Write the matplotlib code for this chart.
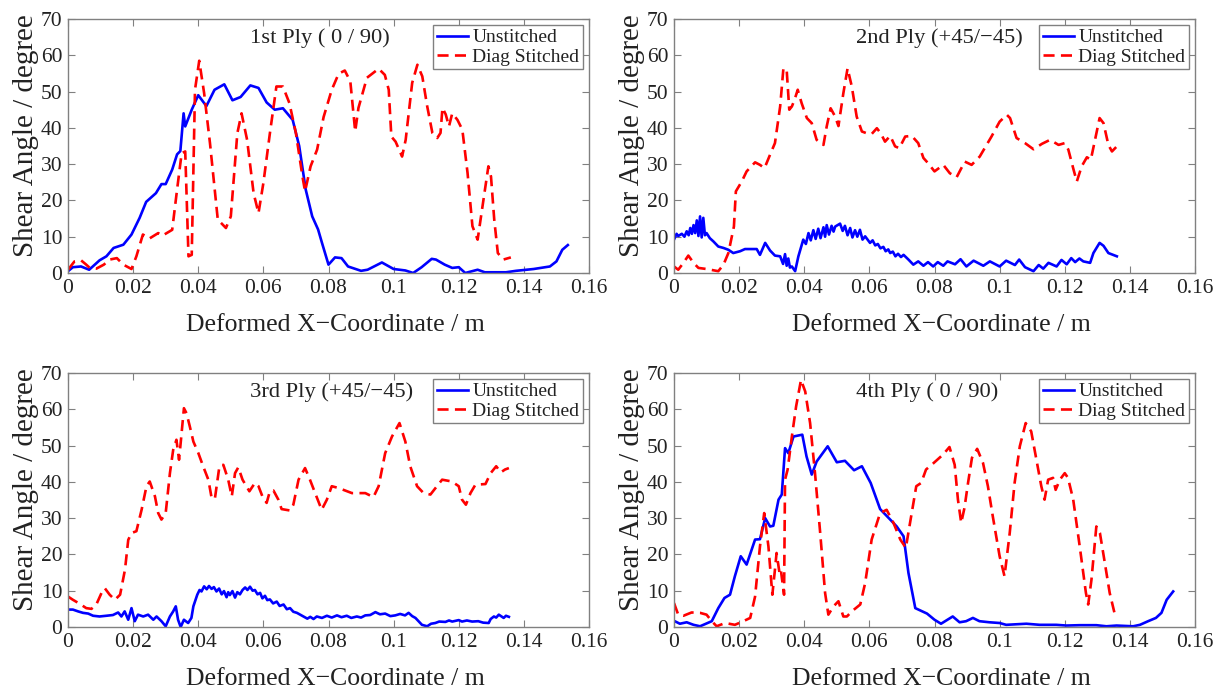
import numpy as np
import matplotlib
matplotlib.use('Agg')
import matplotlib.pyplot as plt

plt.rcParams['font.family'] = ['Liberation Serif', 'DejaVu Serif']

x_ticks = [0, 0.02, 0.04, 0.06, 0.08, 0.10, 0.12, 0.14, 0.16]
x_ticklabels = ['0', '0.02', '0.04', '0.06', '0.08', '0.1', '0.12', '0.14', '0.16']
y_ticks = [0, 10, 20, 30, 40, 50, 60, 70]
titles = ['1st Ply ( 0 / 90)', '2nd Ply (+45/\u221245)', '3rd Ply (+45/\u221245)', '4th Ply ( 0 / 90)']
series_names = ['Unstitched', 'Diag Stitched']

# ply 1
p1_un_x = [0, 0.0015, 0.004, 0.0065, 0.0097, 0.0118, 0.014, 0.017, 0.0195, 0.022, 0.024, 0.027,
           0.0287, 0.030, 0.032, 0.0335, 0.0345, 0.0355, 0.036, 0.038, 0.040, 0.0425, 0.045, 0.048,
           0.0505, 0.053, 0.056, 0.0585, 0.061, 0.0635, 0.066, 0.069, 0.071, 0.073, 0.075, 0.0768,
           0.078, 0.080, 0.082, 0.084, 0.086, 0.090, 0.092, 0.0964, 0.100, 0.1036, 0.106, 0.1086,
           0.1117, 0.113, 0.1157, 0.118, 0.120, 0.122, 0.1258, 0.128, 0.1345, 0.1376, 0.143, 0.148,
           0.150, 0.1518, 0.1535]
p1_un_y = [0.5, 1.6, 1.8, 0.9, 3.5, 4.6, 6.9, 7.8, 10.6, 15.2, 19.6, 22.0,
           24.5, 24.5, 28.5, 32.7, 33.6, 44.0, 40.4, 45.0, 49.0, 46.0, 50.5, 52.0,
           47.6, 48.5, 51.7, 51.0, 47.0, 45.0, 45.4, 42.2, 35.0, 23.0, 15.6, 12.0,
           8.3, 2.3, 4.3, 4.1, 1.8, 0.6, 0.9, 2.9, 1.1, 0.7, 0.0, 1.6,
           3.9, 3.7, 2.3, 1.4, 1.6, 0.0, 0.9, 0.2, 0.2, 0.6, 1.1, 1.8,
           3.2, 6.4, 7.7]
p1_st_x = [0, 0.002, 0.004, 0.0056, 0.0067, 0.0087, 0.011, 0.0128, 0.015, 0.017, 0.0195, 0.021,
           0.023, 0.025, 0.0277, 0.029, 0.032, 0.0335, 0.0349, 0.036, 0.037, 0.038, 0.039, 0.0403,
           0.0418, 0.0436, 0.046, 0.047, 0.0485, 0.050, 0.052, 0.0533, 0.055, 0.057, 0.0585, 0.060,
           0.062, 0.064, 0.066, 0.068, 0.070, 0.072, 0.0728, 0.0745, 0.0765, 0.0785, 0.081, 0.0831,
           0.085, 0.0867, 0.0882, 0.0892, 0.0918, 0.0954, 0.0973, 0.0985, 0.0993, 0.1006, 0.1026,
           0.1037, 0.1057, 0.1073, 0.1088, 0.1103, 0.1119, 0.1134, 0.1144, 0.115, 0.116, 0.117,
           0.118, 0.1196, 0.1211, 0.1227, 0.1242, 0.1258, 0.1273, 0.1291, 0.1299, 0.1309, 0.132,
           0.1337, 0.136]
p1_st_y = [0.9, 3.2, 3.5, 2.3, 1.4, 1.2, 2.3, 3.7, 4.1, 2.3, 1.1, 4.6,
           10.6, 9.5, 11.0, 10.3, 11.9, 23.0, 33.0, 33.5, 4.6, 5.0, 50.5, 58.5,
           49.6, 35.8, 14.7, 13.8, 12.4, 15.6, 38.5, 44.0, 36.7, 22.0, 16.5, 24.8,
           38.5, 51.4, 51.4, 46.8, 38.5, 26.6, 22.5, 29.4, 34.0, 43.0, 50.5, 54.9,
           55.8, 52.8, 39.0, 45.5, 53.8, 56.3, 54.6, 50.5, 37.6, 36.2, 32.1,
           36.7, 52.4, 57.4, 54.2, 46.0, 38.6, 37.2, 38.6, 45.5, 43.7, 40.4,
           44.0, 42.2, 39.5, 27.6, 12.9, 9.2, 18.4, 29.4, 26.6, 14.7, 5.5,
           3.7, 4.3]

# ply 2
p2_un_x = [0, 0.0008, 0.0013, 0.0024, 0.0032, 0.0039, 0.0045, 0.005, 0.0055, 0.006, 0.0065, 0.007,
           0.0075, 0.008, 0.0085, 0.009, 0.0095, 0.010, 0.011, 0.0121, 0.0136, 0.0152, 0.0167,
           0.0182, 0.0203, 0.0218, 0.0239, 0.0254, 0.0264, 0.028, 0.0295, 0.031, 0.0326, 0.0335,
           0.0341, 0.0346, 0.0351, 0.0356, 0.0362, 0.0372, 0.0382, 0.0397, 0.0405, 0.0413, 0.042,
           0.0428, 0.0435, 0.0443, 0.045, 0.0459, 0.0464, 0.0469, 0.0476, 0.0484, 0.049, 0.0495,
           0.051, 0.0518, 0.0525, 0.0533, 0.0541, 0.0548, 0.0556, 0.0563, 0.0571, 0.0579, 0.0587,
           0.0602, 0.061, 0.0618, 0.0626, 0.0634, 0.0643, 0.065, 0.0658, 0.0664, 0.0672, 0.068,
           0.0688, 0.0697, 0.0705, 0.072, 0.0735, 0.075, 0.0766, 0.078,
           0.0796, 0.081, 0.0827, 0.084, 0.0863, 0.088, 0.0898, 0.092, 0.095, 0.097, 0.100, 0.102,
           0.1047, 0.106, 0.1078, 0.1104, 0.112, 0.1134, 0.115, 0.1175, 0.119, 0.1206, 0.122,
           0.1232, 0.1245, 0.1257, 0.1278, 0.1288, 0.1307, 0.1319, 0.1334, 0.136]
p2_un_y = [9.2, 10.8, 10.2, 10.8, 10.0, 11.5, 10.4, 12.4, 10.8, 13.2, 11.0, 14.5,
           10.2, 15.6, 9.8, 15.2, 10.4, 11.0, 9.6, 8.7, 7.3, 6.9, 6.4,
           5.5, 6.0, 6.6, 6.6, 6.6, 5.0, 8.3, 6.2, 4.8, 4.6, 2.5,
           5.2, 2.0, 4.0, 1.5, 1.8, 0.5, 4.6, 9.2, 8.0, 11.0, 9.0,
           11.8, 9.4, 12.2, 9.6, 12.6, 10.0, 13.2, 10.6, 13.0, 11.4, 12.8,
           13.6, 11.6, 13.0, 10.4, 12.4, 9.8, 11.8, 10.0, 11.9, 9.2, 10.1,
           8.3, 9.0, 7.6, 8.0, 6.8, 7.2, 6.0, 6.5, 5.5, 5.9, 4.6,
           5.3, 4.4, 5.0, 3.7, 2.3, 3.2, 2.0, 3.0,
           1.8, 3.0, 2.0, 3.2, 2.4, 3.8, 1.8, 3.4, 2.0, 3.2, 1.8, 3.4,
           2.2, 3.7, 1.6, 0.5, 2.2, 1.2, 2.8, 1.8, 3.6, 2.4, 4.1,
           3.0, 4.0, 3.2, 2.8, 5.5, 8.3, 7.5, 5.5, 4.6]
p2_st_x = [0, 0.0013, 0.0029, 0.0044, 0.006, 0.0075, 0.010, 0.0136, 0.0152, 0.0167, 0.0184, 0.019,
           0.0208, 0.0223, 0.0249, 0.0264, 0.0278, 0.0295, 0.031, 0.0326, 0.0336, 0.0346, 0.0354,
           0.0362, 0.037, 0.038, 0.0392, 0.0408, 0.0423, 0.0438, 0.0449, 0.0459, 0.0469, 0.0481,
           0.0495, 0.0505, 0.052, 0.0533, 0.0546, 0.0561, 0.0577, 0.0592, 0.0607, 0.0623, 0.0635,
           0.0648, 0.0664, 0.0679, 0.0692, 0.071, 0.073, 0.075, 0.0766, 0.078, 0.080, 0.0827,
           0.0847, 0.0868, 0.0893, 0.0914, 0.0939, 0.0975, 0.100, 0.1022, 0.1032, 0.1052, 0.1078,
           0.1104, 0.113, 0.1155, 0.1181, 0.120, 0.1211, 0.1227, 0.1237, 0.1252, 0.1268, 0.128,
           0.1293, 0.1307, 0.1319, 0.1334, 0.1345, 0.136]
p2_st_y = [1.8, 0.9, 2.8, 4.8, 2.8, 1.4, 1.1, 0.5, 2.3, 5.5, 12.8, 22.5,
           25.2, 28.0, 30.5, 29.8, 28.9, 32.6, 35.8, 45.9, 56.4, 56.0, 45.0,
           45.9, 47.7, 50.5, 46.8, 42.7, 41.3, 36.7, 35.8, 35.3, 40.4, 45.4,
           43.1, 40.5, 49.5, 56.4, 51.4, 43.1, 39.0, 38.5, 38.3, 39.9, 38.5,
           36.2, 37.8, 34.9, 34.4, 37.6, 37.8, 35.8, 31.7, 30.3, 28.0, 29.8,
           27.5, 26.4, 30.7, 29.8, 32.1, 37.6, 41.7, 43.6, 42.7, 37.2, 35.8,
           34.1, 35.6, 36.7, 35.3, 35.8, 34.0, 28.5, 25.2, 29.4, 31.9, 31.2,
           36.7, 42.7, 41.3, 35.3, 33.5, 34.9]

# ply 3
p3_un_x = [0, 0.0015, 0.0031, 0.0046, 0.0062, 0.0077, 0.0097, 0.0118, 0.0138, 0.0154, 0.0164,
           0.0174, 0.0185, 0.0195, 0.0205, 0.0215, 0.0231, 0.0246, 0.0262, 0.0272, 0.0287, 0.030,
           0.0313, 0.0323, 0.0331, 0.0338, 0.0346, 0.0356, 0.0369, 0.0379, 0.0385,
           0.0397, 0.0404, 0.041, 0.0418, 0.0426, 0.0433, 0.0441, 0.0448, 0.0456, 0.0464, 0.0472,
           0.0479, 0.0487, 0.0492, 0.0497, 0.0505, 0.0513, 0.052, 0.0528, 0.0536, 0.0544, 0.0551,
           0.0559, 0.0567, 0.0574, 0.0582, 0.059, 0.0597, 0.0605, 0.0612, 0.062, 0.063, 0.0641,
           0.065, 0.0662, 0.0672, 0.0682, 0.0692, 0.0703,
           0.0723, 0.0735, 0.0744, 0.0754, 0.0764, 0.078, 0.0795, 0.081, 0.0826, 0.084, 0.0856,
           0.087, 0.0887, 0.090, 0.0913, 0.0928, 0.0944, 0.0958, 0.0974, 0.099, 0.1005, 0.102,
           0.1035, 0.1046, 0.1057, 0.1067, 0.1087,
           0.1103, 0.1115, 0.1128, 0.114, 0.1159, 0.117, 0.118, 0.120, 0.121, 0.1225, 0.1241,
           0.126, 0.1275, 0.1292, 0.1298, 0.1308, 0.1315, 0.1323, 0.1338, 0.1345, 0.1354]
p3_un_y = [4.8, 4.8, 4.3, 3.9, 3.7, 3.1, 2.9, 3.1, 3.3, 4.0, 2.9,
           4.3, 2.0, 5.2, 1.6, 3.4, 2.9, 3.4, 2.0, 2.9, 1.6, 0.2,
           2.9, 4.3, 5.7, 2.0, 0.0, 2.0, 1.1, 2.5, 5.7,
           8.9, 10.2, 9.8, 11.2, 10.4, 11.3, 10.5, 11.0, 9.8, 10.6, 9.0,
           9.9, 8.2, 9.6, 8.8, 9.9, 8.1, 9.6, 9.0, 10.2, 10.9, 10.2,
           11.1, 10.0, 10.2, 9.0, 9.4, 7.9, 8.6, 7.4, 7.6, 6.5, 7.0,
           5.8, 6.2, 4.9, 5.2, 4.2, 3.9,
           2.9, 2.3, 2.8, 2.2, 2.9, 2.5, 3.1, 2.6, 3.2, 2.7, 3.1,
           2.5, 2.9, 2.6, 3.2, 3.3, 4.1, 3.5, 3.7, 3.0, 3.2, 3.6,
           3.2, 3.9, 3.0, 2.5, 0.6,
           0.2, 0.9, 1.1, 1.5, 1.4, 1.8, 1.5, 1.9, 1.5, 1.8, 1.5,
           1.6, 1.2, 1.1, 2.2, 2.9, 2.6, 3.4, 2.5, 3.1, 2.8]
p3_st_x = [0, 0.0015, 0.0036, 0.0056, 0.0072, 0.0087, 0.0103, 0.0113, 0.0128, 0.0144, 0.016, 0.0175,
           0.0185, 0.0195, 0.021, 0.0226, 0.0241, 0.0251, 0.0267, 0.0277, 0.0287, 0.030, 0.0313,
           0.0323, 0.0333, 0.0341, 0.0346, 0.0356, 0.0364, 0.0374, 0.0385, 0.040, 0.0415, 0.0431,
           0.0441, 0.0451, 0.0465, 0.0477, 0.0492, 0.0503, 0.0513, 0.0523, 0.0536, 0.0557, 0.0574,
           0.0585, 0.0597, 0.061, 0.062, 0.0631, 0.0646, 0.0656, 0.0682, 0.0692, 0.0708, 0.0728,
           0.0743, 0.0759, 0.0779, 0.0795, 0.081, 0.0831, 0.0872, 0.0913, 0.0938, 0.0954, 0.0974,
           0.0995, 0.1018, 0.1036, 0.1051, 0.1072, 0.1092, 0.1113, 0.1133, 0.1149, 0.1179, 0.120,
           0.121, 0.1222, 0.1236, 0.1251, 0.1282, 0.1298, 0.1315, 0.1329, 0.1342, 0.1354]
p3_st_y = [8.4, 7.5, 6.4, 5.2, 5.0, 6.2, 9.4, 10.7, 8.9, 7.5, 8.9, 15.8,
           24.0, 25.9, 26.4, 32.3, 38.8, 40.1, 36.0, 31.4, 29.6, 31.4, 42.4,
           48.8, 51.6, 46.1, 50.7, 60.3, 58.9, 55.3, 51.1, 48.0, 44.3, 40.6,
           35.6, 35.3, 44.3, 44.7, 40.6, 36.0, 42.4, 44.0, 40.6, 37.4, 39.7,
           38.8, 36.0, 34.2, 37.4, 37.6, 35.1, 32.5, 32.1, 33.7, 40.6, 43.8,
           40.6, 36.9, 32.3, 35.1, 38.8, 38.3, 36.9, 36.9, 35.8, 38.8, 47.9,
           52.5, 56.2, 51.1, 44.3, 38.8, 36.9, 36.5, 38.8, 40.6, 40.1, 38.8,
           35.1, 33.7, 36.9, 39.2, 39.4, 42.4, 44.3, 42.6, 43.4, 43.8]

# ply 4
p4_un_x = [0, 0.0018, 0.0039, 0.006, 0.008, 0.0116, 0.0136, 0.0155, 0.0172, 0.0187, 0.0205, 0.0223,
           0.0249, 0.0264, 0.028, 0.0295, 0.0305, 0.0321, 0.0331, 0.0341, 0.0351, 0.0367, 0.0394,
           0.0407, 0.0423, 0.0438, 0.0472, 0.050, 0.0525, 0.0553, 0.0577, 0.0604, 0.0633, 0.0664,
           0.0684, 0.0705, 0.072, 0.0741, 0.0777, 0.080, 0.082, 0.0856, 0.0877, 0.0897, 0.0918,
           0.0938, 0.0969, 0.100, 0.102, 0.1082, 0.1123, 0.1174, 0.1205, 0.1246, 0.1297, 0.1328,
           0.1359, 0.141, 0.1431, 0.1456, 0.148, 0.1497, 0.1513, 0.1533]
p4_un_y = [1.7, 0.9, 1.3, 0.6, 0.2, 1.6, 5.2, 8.0, 8.9, 14.0, 19.5, 17.2,
           24.1, 24.2, 30.0, 27.7, 27.9, 35.1, 36.5, 49.3, 47.9, 52.5, 53.0,
           47.0, 42.0, 45.6, 49.8, 45.4, 45.8, 43.2, 44.3, 39.7, 32.5, 29.6,
           27.7, 25.0, 14.9, 5.2, 3.7, 2.0, 0.9, 2.9, 1.3, 1.6, 2.5,
           1.6, 1.3, 1.1, 0.6, 0.9, 0.6, 0.6, 0.4, 0.5, 0.5, 0.2,
           0.4, 0.2, 0.6, 1.6, 2.5, 3.9, 7.5, 9.8]
p4_st_x = [0, 0.0013, 0.0029, 0.0054, 0.008, 0.010, 0.0116, 0.0131, 0.0157, 0.0187, 0.0213, 0.0234,
           0.0249, 0.0264, 0.0277, 0.029, 0.0302, 0.031, 0.0315, 0.0324, 0.0328, 0.0338, 0.0341,
           0.0349, 0.0362, 0.0375, 0.039, 0.0403, 0.0418, 0.0433, 0.0449, 0.0464, 0.0474, 0.049,
           0.0505, 0.052, 0.0531, 0.0546, 0.0572, 0.0587, 0.0607, 0.0633, 0.0653, 0.0674, 0.0695,
           0.0712, 0.0723, 0.0744, 0.0759, 0.0774, 0.0795, 0.0826, 0.0846, 0.0862, 0.0872, 0.0882,
           0.0892, 0.0903, 0.0915, 0.0931, 0.0949, 0.0964, 0.0979, 0.100, 0.1015, 0.1031, 0.1046,
           0.1062, 0.108, 0.1097, 0.1113, 0.1128, 0.1138, 0.1149, 0.1164, 0.1172, 0.1185, 0.120,
           0.121, 0.1226, 0.1246, 0.1265, 0.1272, 0.1282, 0.1297, 0.1308, 0.1323, 0.1338, 0.1354,
           0.1359]
p4_st_y = [6.6, 3.4, 3.1, 4.0, 3.9, 3.4, 1.6, 0.2, 1.1, 0.6, 1.6, 2.5,
           8.4, 22.2, 31.4, 22.2, 8.9, 15.8, 20.4, 14.9, 15.8, 8.9, 40.6,
           43.4, 52.5, 60.8, 68.1, 64.9, 56.2, 42.4, 25.9, 9.4, 3.4, 5.7,
           7.1, 2.9, 2.9, 4.3, 6.2, 12.1, 24.1, 31.4, 32.3, 28.7, 24.1,
           21.8, 27.7, 38.8, 39.7, 43.4, 45.0, 47.5, 49.6, 44.7, 35.1, 28.7,
           32.8, 39.7, 46.6, 49.1, 45.2, 38.8, 30.5, 19.5, 14.0, 25.9, 39.7,
           49.8, 56.2, 53.9, 46.1, 38.8, 35.1, 40.6, 41.1, 37.8, 40.6, 42.4,
           41.1, 35.1, 22.2, 9.4, 6.2, 13.0, 27.7, 25.9, 17.7, 9.4, 3.4,
           2.9]

plies = [
    (p1_un_x, p1_un_y, p1_st_x, p1_st_y),
    (p2_un_x, p2_un_y, p2_st_x, p2_st_y),
    (p3_un_x, p3_un_y, p3_st_x, p3_st_y),
    (p4_un_x, p4_un_y, p4_st_x, p4_st_y),
]

# axes boxes in figure fraction: left, bottom, width, height
W, H = 1229, 689
boxes = [
    (68 / W, 1 - 273 / H, 521 / W, 254 / H),
    (674 / W, 1 - 273 / H, 521 / W, 254 / H),
    (68 / W, 1 - 627 / H, 521 / W, 254 / H),
    (674 / W, 1 - 627 / H, 521 / W, 254 / H),
]

fig = plt.figure(figsize=(12.29, 6.89), dpi=100)
edge = '#808080'
for i, (ux, uy, sx, sy) in enumerate(plies):
    ax = fig.add_axes(boxes[i])
    ax.plot(ux, uy, color='#0000ff', lw=1.9, label=series_names[0])
    ax.plot(sx, sy, color='#ff0000', lw=1.9, dashes=(4.2, 2.4), label=series_names[1])
    ax.set_xlim(0, 0.16)
    ax.set_ylim(0, 70)
    ax.set_xticks(x_ticks)
    ax.set_xticklabels(x_ticklabels)
    ax.set_yticks(y_ticks)
    ax.tick_params(direction='in', length=5, width=0.8, color=edge, labelsize=15.5,
                   labelcolor='#222222', top=True, right=True, pad=4)
    for s in ax.spines.values():
        s.set_color(edge)
        s.set_linewidth(1.0)
    ax.set_xlabel('Deformed X\u2212Coordinate / m', fontsize=18.5, color='#222222', labelpad=12)
    ax.set_ylabel('Shear Angle / degree', fontsize=21, color='#222222', labelpad=1.5)
    # labels sit a little off the axes centre
    ax.xaxis.label.set_x(0.514)
    ax.yaxis.label.set_y(0.54)
    ax.text(0.35, 0.925, titles[i], transform=ax.transAxes, fontsize=16.2, color='#222222',
            ha='left', va='center')
    leg = ax.legend(loc='upper right', fontsize=14, frameon=True, fancybox=False,
                    edgecolor=edge, framealpha=1, borderpad=0.2, labelspacing=0.08,
                    handlelength=1.6, handletextpad=0.2, borderaxespad=0.3)
    leg.get_frame().set_linewidth(1.0)
    for t in leg.get_texts():
        t.set_color('#222222')

fig.savefig('out.png', dpi=100)
